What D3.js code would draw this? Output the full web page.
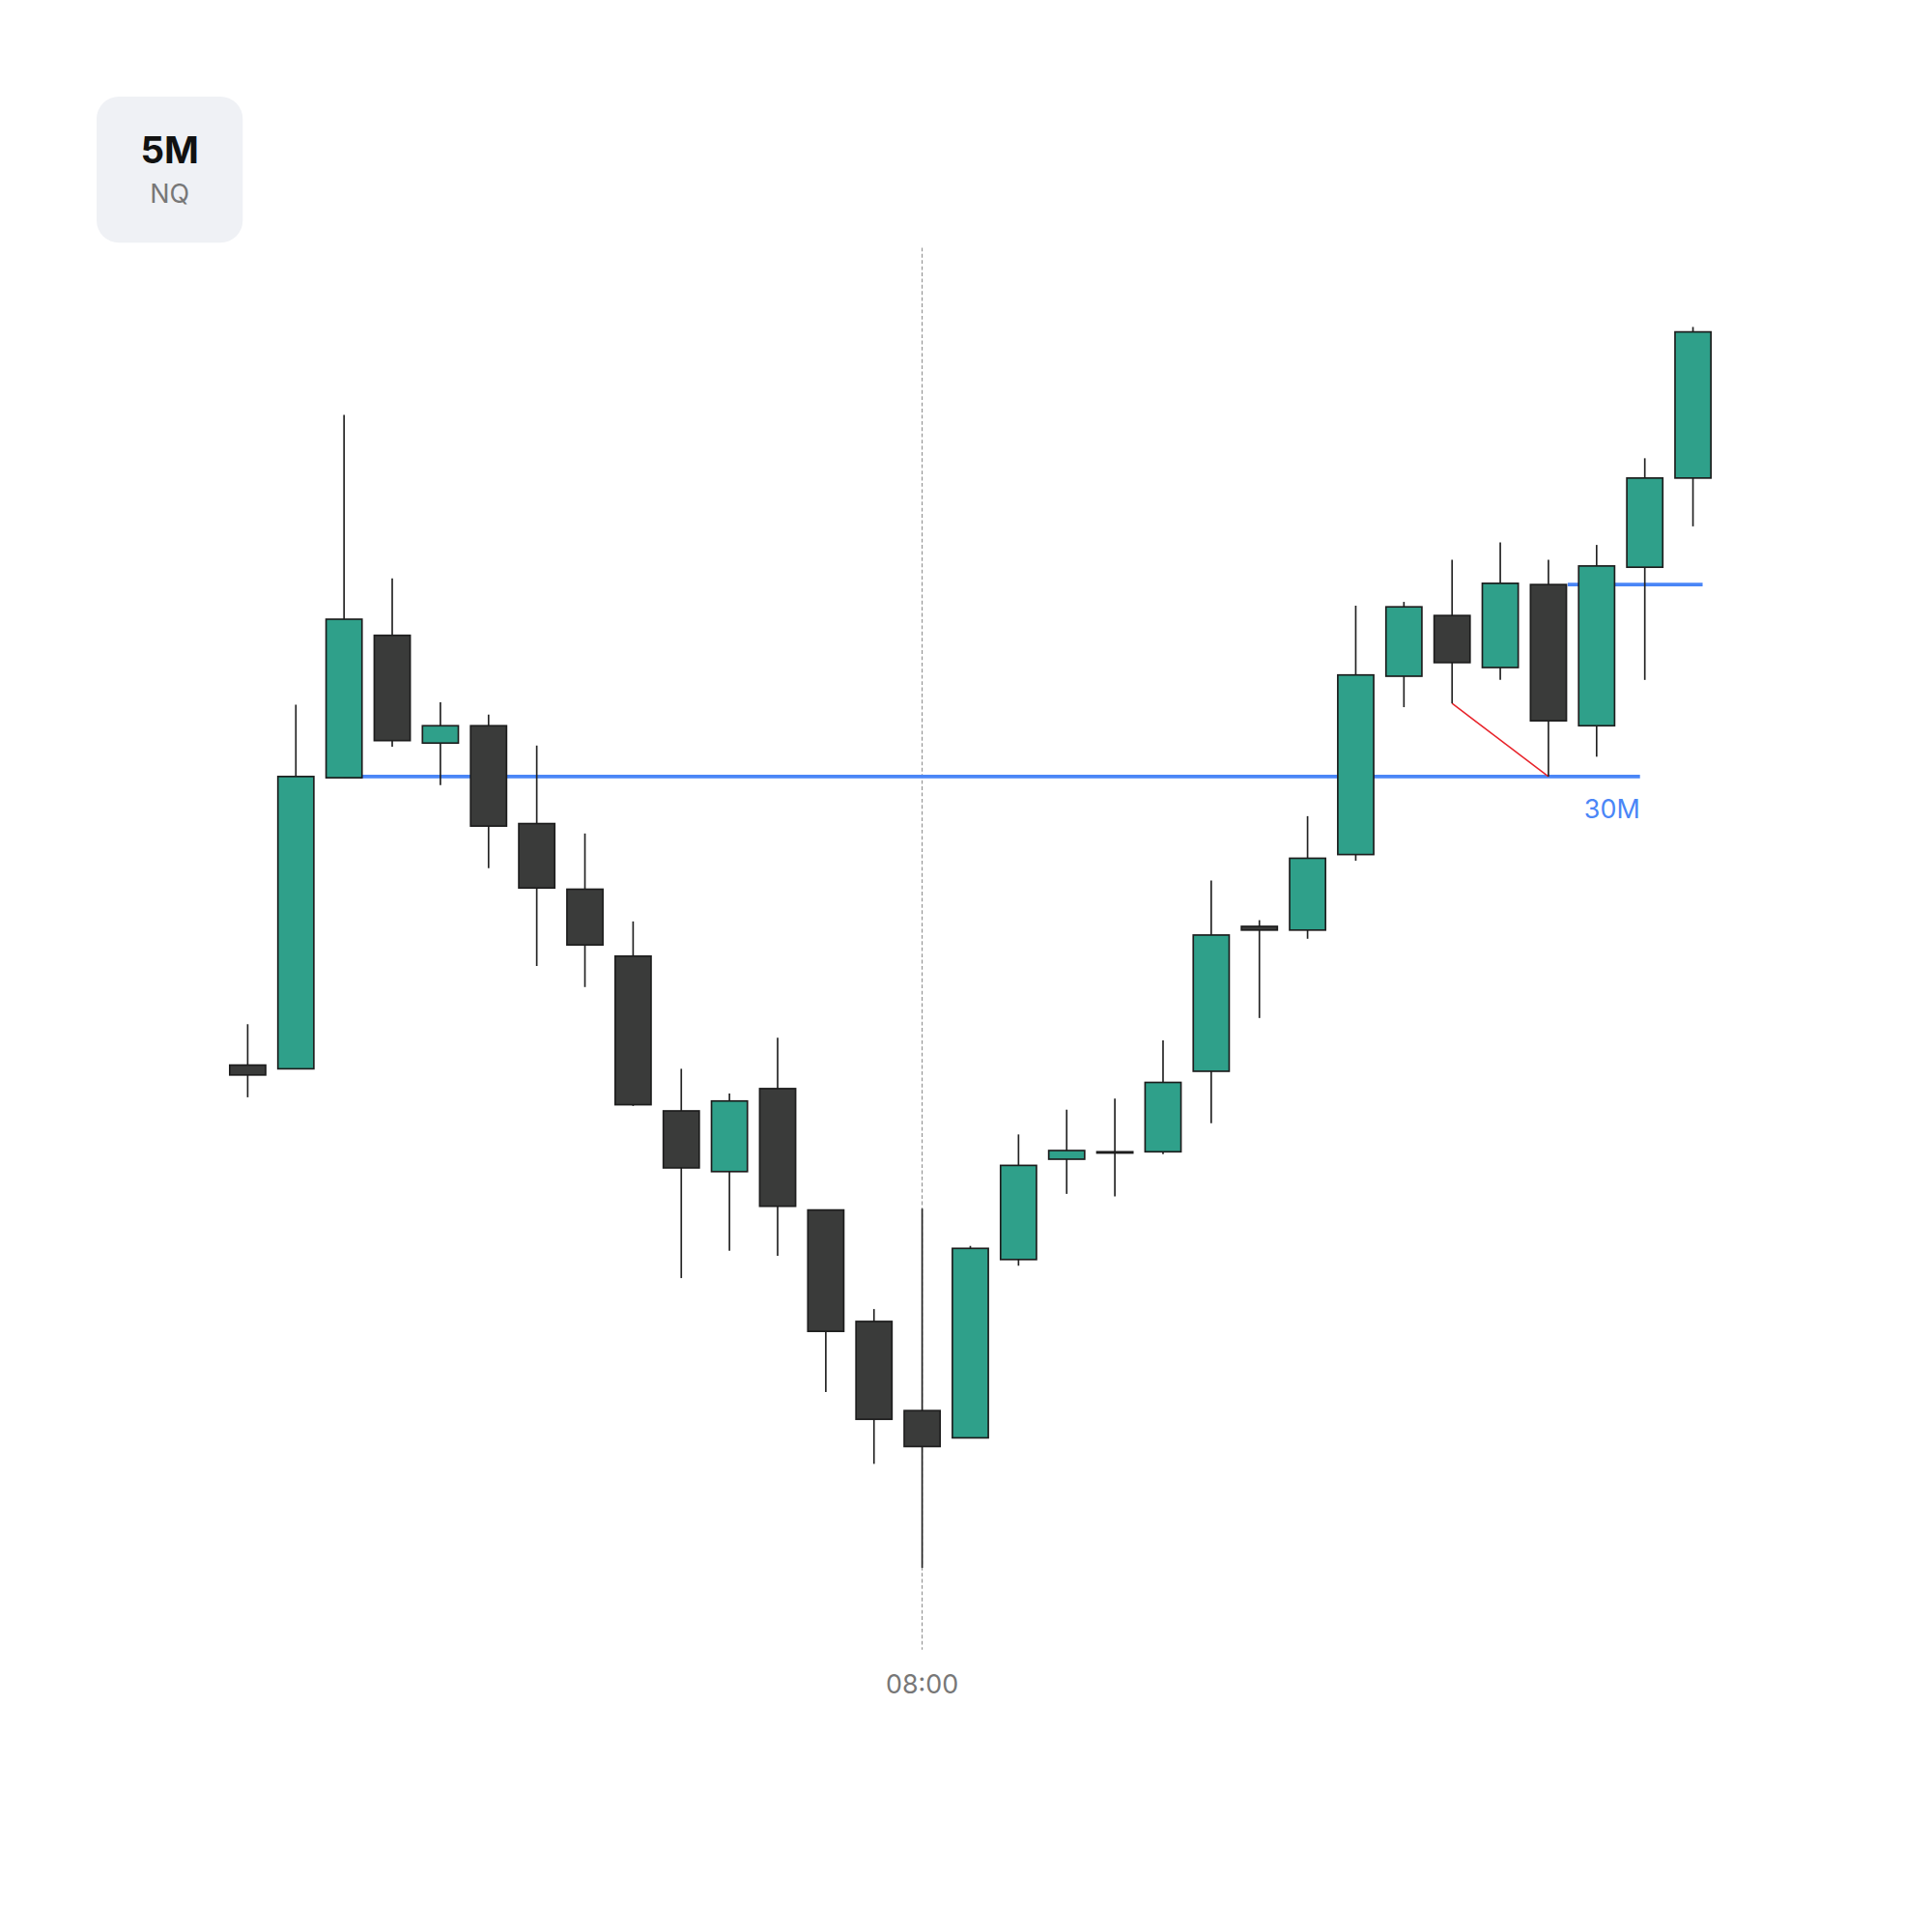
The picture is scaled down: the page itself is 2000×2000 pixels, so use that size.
<!DOCTYPE html>
<html>
<head>
<meta charset="utf-8">
<script src="https://cdn.jsdelivr.net/npm/d3@7"></script>
<style>
  body { margin: 0; background: #fff; }
  svg { display: block; font-family: Inter, Roboto, sans-serif; }
</style>
</head>
<body>
<svg id="chart" width="2000" height="2000" viewBox="0 0 1560 1560"></svg>
<script>
// 5 minute NQ candles, open/high/low/close
const opens  = [17750, 17749.25, 17808, 17836.75, 17815, 17818.5, 17798.75, 17785.5, 17772, 17740.75, 17728.5, 17745.25, 17720.75, 17698.25, 17680.25, 17674.75, 17710.75, 17731, 17732.5, 17732.5, 17748.75, 17778, 17777.25, 17792.5, 17828.5, 17840.75, 17830.25, 17847, 17818.5, 17850.5, 17868.5]
const highs  = [17758.25, 17822.75, 17881.25, 17848.25, 17823.25, 17820.75, 17814.5, 17796.75, 17779, 17749.25, 17744.25, 17755.5, 17720.75, 17700.75, 17721, 17713.5, 17736, 17741, 17743.25, 17755, 17787.25, 17779.25, 17800.25, 17842.75, 17843.5, 17852, 17855.5, 17852, 17855, 17872.5, 17899]
const lows   = [17743.5, 17749.25, 17808, 17814.25, 17806.5, 17789.75, 17770, 17765.75, 17741.75, 17707, 17712.5, 17711.5, 17684, 17669.5, 17648.5, 17674.75, 17709.5, 17724, 17723.5, 17732, 17738.25, 17759.5, 17775.5, 17791.25, 17822.25, 17823, 17827.75, 17808.25, 17812.25, 17827.75, 17858.75]
const closes = [17748, 17808.25, 17840, 17815.5, 17818.5, 17798.25, 17785.75, 17774.25, 17742, 17729.25, 17742.75, 17721.5, 17696.25, 17678.5, 17673, 17713, 17729.75, 17732.75, 17732.5, 17746.5, 17776.25, 17777.25, 17791.75, 17828.75, 17842.5, 17831.25, 17847.25, 17819.5, 17850.75, 17868.5, 17898]

const sessionIndex = 14
const sessionLabel = '08:00'
const levels = [
  { price: 17808.25, from: 2, to: 28.9, label: '30M' },
  { price: 17847, from: 27.4, to: 30.2, label: '' }
]
const sweepLine = { from: 25, to: 27 }   // low-to-low red line
const title = '5M'
const subtitle = 'NQ'

const candles = opens.map((o, i) => ({ i, o, h: highs[i], l: lows[i], c: closes[i] }))

const svg = d3.select('#chart')
const x = d3.scaleLinear().domain([0, 30]).range([200, 1367])
const y = d3.scaleLinear().domain([17575, 17965]).range([1560, 0])
const bw = 29

// header badge
svg.append('rect').attr('x', 78).attr('y', 78).attr('width', 118).attr('height', 118)
  .attr('rx', 18).attr('fill', '#eff1f5')
svg.append('text').attr('x', 137).attr('y', 132).attr('text-anchor', 'middle')
  .attr('font-size', 30).attr('font-weight', 700).attr('fill', '#111').text(title)
svg.append('text').attr('x', 137).attr('y', 164).attr('text-anchor', 'middle')
  .attr('font-size', 21).attr('fill', '#777').text(subtitle)

// session divider
svg.append('line')
  .attr('x1', x(sessionIndex)).attr('x2', x(sessionIndex))
  .attr('y1', 200).attr('y2', 1332)
  .attr('stroke', '#888').attr('stroke-width', 0.8).attr('stroke-dasharray', '3,2')
svg.append('text').attr('x', x(sessionIndex)).attr('y', 1367).attr('text-anchor', 'middle')
  .attr('font-size', 21).attr('fill', '#777').text(sessionLabel)

// levels
svg.selectAll('.level').data(levels).join('line')
  .attr('x1', d => x(d.from)).attr('x2', d => x(d.to))
  .attr('y1', d => y(d.price)).attr('y2', d => y(d.price))
  .attr('stroke', '#4a86f7').attr('stroke-width', 3)
svg.selectAll('.level-label').data(levels.filter(d => d.label)).join('text')
  .attr('x', d => x(d.to)).attr('y', d => y(d.price) + 34)
  .attr('text-anchor', 'end').attr('font-size', 21).attr('fill', '#4a86f7')
  .text(d => d.label)

// sweep
svg.append('line')
  .attr('x1', x(sweepLine.from)).attr('y1', y(lows[sweepLine.from]))
  .attr('x2', x(sweepLine.to)).attr('y2', y(lows[sweepLine.to]))
  .attr('stroke', '#e8232a').attr('stroke-width', 1.2)

// candles
const g = svg.append('g')
g.selectAll('.wick').data(candles).join('line')
  .attr('x1', d => x(d.i)).attr('x2', d => x(d.i))
  .attr('y1', d => y(d.h)).attr('y2', d => y(d.l))
  .attr('stroke', '#222').attr('stroke-width', 1.3)
g.selectAll('.body').data(candles).join('rect')
  .attr('x', d => x(d.i) - bw / 2).attr('width', bw)
  .attr('y', d => y(Math.max(d.o, d.c)))
  .attr('height', d => Math.max(1, Math.abs(y(d.o) - y(d.c))))
  .attr('fill', d => d.c > d.o ? '#2fa08a' : '#3a3b3a')
  .attr('stroke', '#1d1d1d').attr('stroke-width', 1.3)
</script>
</body>
</html>
